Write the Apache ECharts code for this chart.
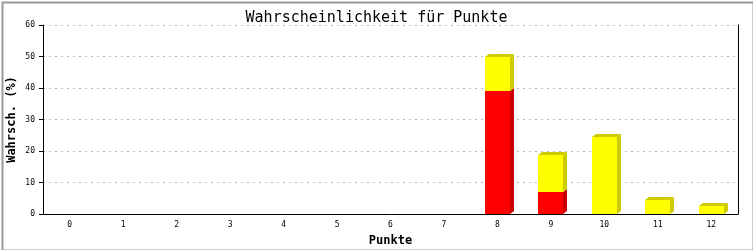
<!DOCTYPE html>
<html><head><meta charset="utf-8">
<script src="https://cdn.jsdelivr.net/npm/echarts@6/dist/echarts.min.js"></script>
<style>html,body{margin:0;padding:0;background:#fff}#c{width:753px;height:250px}</style>
</head><body><div id="c"></div>
<script>
var categories = ['0','1','2','3','4','5','6','7','8','9','10','11','12'];
var redValues = [0,0,0,0,0,0,0,0,38.9,7.0,0,0,0];
var yellowValues = [0,0,0,0,0,0,0,0,11.1,11.8,24.5,4.5,2.5];
var yTicks = [0,10,20,30,40,50,60];

var chart = echarts.init(document.getElementById('c'), null, {renderer:'canvas'});
var segData = [];
categories.forEach(function(c, i){
  if (redValues[i] > 0) segData.push([i, 0, redValues[i], 0, yellowValues[i] > 0 ? 1 : 0]);
});
categories.forEach(function(c, i){
  if (yellowValues[i] > 0) segData.push([i, redValues[i], redValues[i] + yellowValues[i], 1, 0]);
});
var fronts = ['#FF0000', '#FFFF00'];
var sides = ['#CC0000', '#CCCC00'];
var DX = 4, DY = 3, BW = 25;

chart.setOption({
  animation: false,
  backgroundColor: '#fff',
  title: {
    text: 'Wahrscheinlichkeit für Punkte', left: 'center', top: 6,
    textStyle: {fontFamily: 'DejaVu Sans Mono', fontSize: 15, fontWeight: 'normal', color: '#000'}
  },
  grid: {left: 43, right: 15, top: 25, bottom: 36, containLabel: false, outerBoundsMode: 'none'},
  xAxis: {
    type: 'category', data: categories,
    name: 'Punkte', nameLocation: 'middle', nameGap: 21, nameMoveOverlap: false,
    nameTextStyle: {fontFamily: 'DejaVu Sans Mono', fontSize: 12, fontWeight: 'bold', color: '#000'},
    axisLine: {lineStyle: {color: '#000', width: 1}},
    axisTick: {show: false},
    axisLabel: {fontFamily: 'DejaVu Sans Mono', fontSize: 8, color: '#000', margin: 7}
  },
  yAxis: [{
    type: 'value', min: 0, max: 60, interval: 10,
    name: 'Wahrsch. (%)', nameLocation: 'middle', nameGap: 25, nameRotate: 90, nameMoveOverlap: false,
    nameTextStyle: {fontFamily: 'DejaVu Sans Mono', fontSize: 12, fontWeight: 'bold', color: '#000'},
    axisLine: {show: true, lineStyle: {color: '#000'}},
    axisTick: {show: true, length: 4, lineStyle: {color: '#000'}},
    axisLabel: {fontFamily: 'DejaVu Sans Mono', fontSize: 8, color: '#000', margin: 8,
      formatter: function(v){ return yTicks.indexOf(v) >= 0 ? String(v) : ''; }},
    splitLine: {show: true, lineStyle: {color: '#BBBBBB', type: [2, 4]}}
  }, {
    type: 'value', min: 0, max: 60, interval: 10, position: 'right',
    axisLine: {show: true, lineStyle: {color: '#000'}},
    axisTick: {show: false}, axisLabel: {show: false}, splitLine: {show: false}
  }],
  graphic: [{
    type: 'rect', left: 0, top: 0, z: 100, silent: true,
    shape: {x: 1, y: 1, width: 751, height: 248},
    style: {fill: 'none', stroke: '#999999', lineWidth: 2}
  }],
  series: [{
    type: 'custom',
    data: segData,
    encode: {x: 0, y: [1, 2]},
    renderItem: function(params, api){
      var cat = api.value(0), base = api.value(1), top = api.value(2), ci = api.value(3), covered = api.value(4);
      var pb = api.coord([cat, base]);
      var pt = api.coord([cat, top]);
      var x0 = Math.round(pb[0] - BW / 2), x1 = x0 + BW;
      var yb = Math.round(pb[1]), yt = Math.round(pt[1]);
      var children = [
        {type: 'polygon', shape: {points: [[x1, yt], [x1 + DX, yt - DY], [x1 + DX, yb - DY], [x1, yb]]}, style: {fill: sides[ci]}},
        {type: 'rect', shape: {x: x0, y: yt, width: BW, height: yb - yt}, style: {fill: fronts[ci]}}
      ];
      if (!covered) {
        children.push({type: 'polygon', shape: {points: [[x0, yt], [x0 + DX, yt - DY], [x1 + DX, yt - DY], [x1, yt]]}, style: {fill: sides[ci]}});
      }
      return {type: 'group', children: children};
    }
  }]
});
</script></body></html>
